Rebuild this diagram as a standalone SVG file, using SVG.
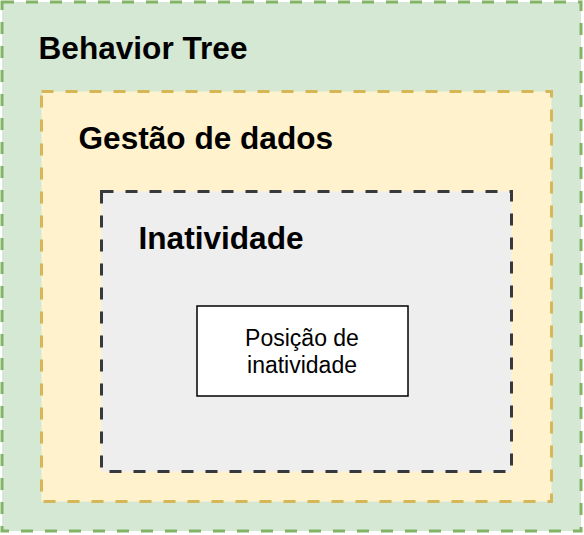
<svg xmlns="http://www.w3.org/2000/svg" width="584" height="535" viewBox="0 0 584 535">
<style>
.c{stroke-width:3;stroke-dasharray:12 12}
.t{font-family:"Liberation Sans",Arial,sans-serif;font-weight:bold;font-size:31.6px;fill:#000}
.l{font-family:"Liberation Sans",Arial,sans-serif;font-size:23px;fill:#000;text-anchor:middle}
</style>
<rect width="584" height="535" fill="#ffffff"/>
<g id="behavior-tree">
<rect class="c" x="2" y="2" width="579" height="529" fill="#d5e8d4" stroke="#82b366"/>
<text class="t" x="38.5" y="58.5">Behavior Tree</text>
</g>
<g id="gestao-de-dados">
<rect class="c" x="41.5" y="91.5" width="510" height="410" fill="#fff2cc" stroke="#d6b656"/>
<text class="t" x="78.5" y="148.5">Gestão de dados</text>
</g>
<g id="inatividade">
<rect class="c" x="101.5" y="191.5" width="410" height="280" fill="#eeeeee" stroke="#36393d"/>
<text class="t" x="138.5" y="248.5">Inatividade</text>
</g>
<g id="posicao-de-inatividade">
<rect x="197" y="306" width="211" height="90" fill="#ffffff" stroke="#000000" stroke-width="1.5"/>
<text class="l" x="302" y="346">Posição de</text>
<text class="l" x="302" y="373">inatividade</text>
</g>
<g id="connectors"/>
</svg>
